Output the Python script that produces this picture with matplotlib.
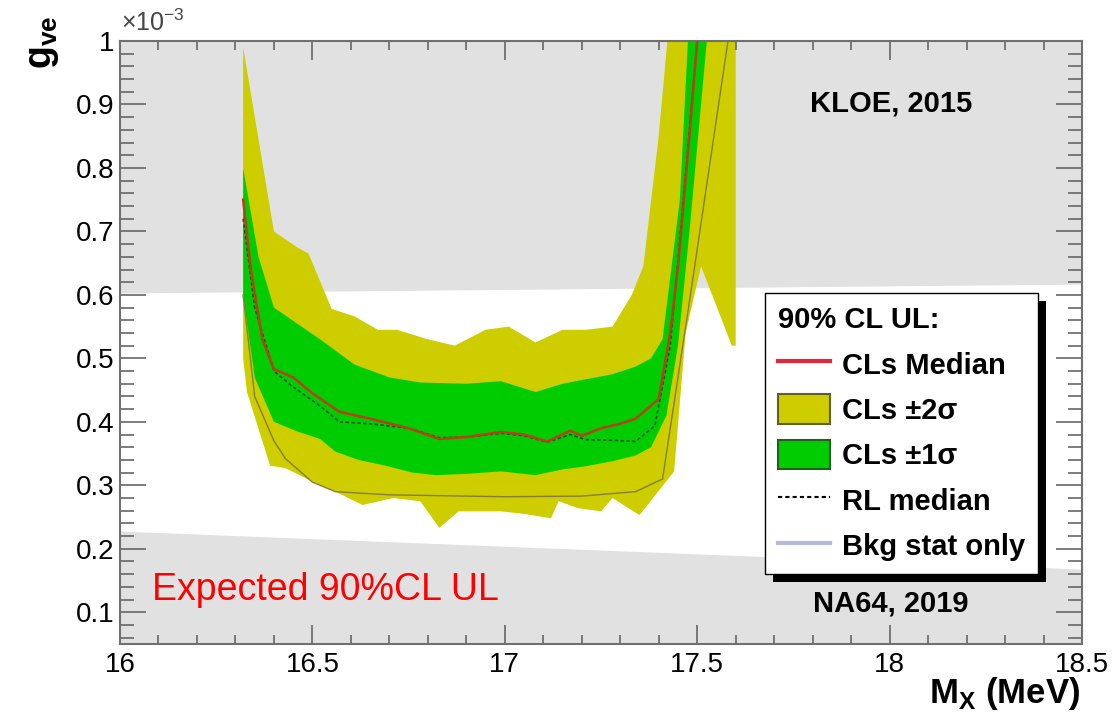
import numpy as np
import matplotlib.pyplot as plt
from matplotlib.lines import Line2D
from matplotlib.patches import Patch, Rectangle
from matplotlib.ticker import MultipleLocator, FuncFormatter
from matplotlib.transforms import IdentityTransform

plt.rcParams['font.family'] = ['Liberation Sans', 'DejaVu Sans']
plt.rcParams['mathtext.fontset'] = 'custom'
plt.rcParams['mathtext.rm'] = 'Liberation Sans'
plt.rcParams['mathtext.bf'] = 'Liberation Sans:bold'

# coupling values in units of 1e-3, mass in MeV
kloe_x = [16.0, 18.5]
kloe_y = [0.603, 0.617]
na64_x = [16.0, 18.5]
na64_y = [0.228, 0.168]

sig2_up_x = [16.32, 16.40, 16.46, 16.49, 16.55, 16.61, 16.67, 16.72, 16.80, 16.87, 16.95,
             17.01, 17.08, 17.15, 17.21, 17.28, 17.33, 17.36, 17.40, 17.43, 17.60]
sig2_up_y = [0.99, 0.70, 0.675, 0.665, 0.578, 0.566, 0.545, 0.545, 0.53, 0.52, 0.545,
             0.55, 0.525, 0.545, 0.545, 0.55, 0.60, 0.645, 0.85, 1.05, 1.05]
sig2_lo_x = [16.32, 16.33, 16.39, 16.43, 16.52, 16.56, 16.63, 16.71, 16.78, 16.83, 16.88,
             16.99, 17.05, 17.12, 17.14, 17.19, 17.25, 17.28, 17.35, 17.44, 17.47, 17.51,
             17.59, 17.60]
sig2_lo_y = [0.50, 0.447, 0.331, 0.327, 0.30, 0.29, 0.269, 0.28, 0.275, 0.233, 0.259,
             0.259, 0.255, 0.248, 0.275, 0.264, 0.259, 0.28, 0.253, 0.322, 0.54, 0.645,
             0.52, 0.52]

sig1_up_x = [16.32, 16.36, 16.40, 16.46, 16.52, 16.61, 16.70, 16.78, 16.90, 16.99, 17.08,
             17.15, 17.21, 17.28, 17.34, 17.38, 17.41, 17.455, 17.48, 17.53]
sig1_up_y = [0.80, 0.66, 0.58, 0.555, 0.53, 0.49, 0.47, 0.462, 0.46, 0.464, 0.447,
             0.46, 0.467, 0.475, 0.487, 0.50, 0.53, 0.75, 1.05, 1.05]
sig1_lo_x = [16.32, 16.35, 16.40, 16.46, 16.52, 16.56, 16.62, 16.69, 16.76, 16.82, 16.90,
             16.99, 17.08, 17.15, 17.21, 17.28, 17.34, 17.38, 17.42, 17.45, 17.48, 17.525,
             17.53]
sig1_lo_y = [0.60, 0.47, 0.40, 0.385, 0.373, 0.353, 0.34, 0.331, 0.32, 0.316, 0.318,
             0.322, 0.316, 0.325, 0.33, 0.338, 0.347, 0.36, 0.41, 0.52, 0.70, 1.0,
             1.05]

med_x = [16.32, 16.34, 16.37, 16.40, 16.45, 16.50, 16.57, 16.65, 16.75, 16.83, 16.90,
         16.99, 17.05, 17.11, 17.17, 17.20, 17.25, 17.30, 17.34, 17.40, 17.43, 17.45,
         17.48, 17.50]
med_y = [0.75, 0.64, 0.53, 0.483, 0.47, 0.445, 0.416, 0.405, 0.39, 0.373, 0.376,
         0.384, 0.38, 0.369, 0.386, 0.378, 0.39, 0.397, 0.405, 0.436, 0.54, 0.644,
         0.853, 1.0]

rl_x = [16.32, 16.35, 16.40, 16.45, 16.52, 16.57, 16.65, 16.75, 16.83, 16.90, 16.99,
        17.05, 17.11, 17.17, 17.21, 17.28, 17.34, 17.39, 17.43, 17.46, 17.50]
rl_y = [0.72, 0.58, 0.48, 0.455, 0.425, 0.40, 0.397, 0.39, 0.375, 0.376, 0.382,
        0.378, 0.368, 0.38, 0.372, 0.371, 0.369, 0.394, 0.52, 0.72, 1.0]

bkg_x = [16.32, 16.35, 16.40, 16.43, 16.50, 16.56, 16.70, 17.00, 17.20, 17.34, 17.41,
         17.48, 17.58]
bkg_y = [0.60, 0.44, 0.37, 0.342, 0.305, 0.29, 0.285, 0.282, 0.283, 0.29, 0.31,
         0.59, 1.0]

x_ticks = [16, 16.5, 17, 17.5, 18, 18.5]
y_ticks = [0.1, 0.2, 0.3, 0.4, 0.5, 0.6, 0.7, 0.8, 0.9, 1.0]

grey = '#e1e1e1'
yellow = '#cdcd00'
green = '#00cc00'

fig = plt.figure(figsize=(11.12, 7.15), dpi=100)
ax = fig.add_axes([120 / 1112, 1 - 644 / 715, 962 / 1112, 603 / 715])
ax.set_xlim(16, 18.5)
ax.set_ylim(0.05, 1.0)

# excluded regions
ax.fill_between(kloe_x, kloe_y, 1.0, color=grey, lw=0, zorder=0)
ax.fill_between(na64_x, 0.05, na64_y, color=grey, lw=0, zorder=0)

# expected limit bands
ax.fill(sig2_up_x + sig2_lo_x[::-1], sig2_up_y + sig2_lo_y[::-1],
        color=yellow, lw=0, zorder=1)
ax.fill(sig1_up_x + sig1_lo_x[::-1], sig1_up_y + sig1_lo_y[::-1],
        color=green, lw=0, zorder=2)
ax.plot(bkg_x, bkg_y, color='#857d3c', lw=1.0, zorder=3)
ax.plot(rl_x, rl_y, color='#205020', lw=1.2, ls=(0, (2, 1.5)), zorder=3)
ax.plot(med_x, med_y, color='#b8401c', lw=1.8, zorder=4)

# ticks, ROOT style
ax.set_xticks(x_ticks)
ax.set_yticks(y_ticks)
ax.xaxis.set_minor_locator(MultipleLocator(0.1))
ax.yaxis.set_minor_locator(MultipleLocator(0.02))
fmt = FuncFormatter(lambda v, p: '%g' % v)
ax.xaxis.set_major_formatter(fmt)
ax.yaxis.set_major_formatter(fmt)
ax.tick_params(which='both', direction='in', top=True, right=True,
               color='#666666', width=1.2, labelsize=20)
ax.tick_params(axis='x', which='major', length=14, pad=6)
ax.tick_params(axis='x', which='minor', length=6.5)
ax.tick_params(axis='y', which='major', length=19, pad=4)
ax.tick_params(axis='y', which='minor', length=10)
for s in ax.spines.values():
    s.set_color('#707070')
    s.set_linewidth(1.5)

# labels
fig.text(121 / 1112, 1 - 31 / 715, r'$\times10^{-3}$', fontsize=18, color='#444444',
         ha='left', va='baseline')
fig.text(43 / 1112, 1 - 42 / 715, r'$\mathbf{g}_{\mathbf{ve}}$', fontsize=27,
         rotation=90, ha='center', va='center')
fig.text(1080 / 1112, 1 - 703 / 715, r'$\mathbf{M}_{\mathbf{X}}$ (MeV)', fontsize=25,
         fontweight='bold', ha='right', va='baseline')

ax.text(17.793, 0.889, 'KLOE, 2015', fontsize=21, fontweight='bold', zorder=6)
ax.text(17.80, 0.1016, 'NA64, 2019', fontsize=21, fontweight='bold', zorder=6)
ax.text(16.083, 0.119, 'Expected 90%CL UL', fontsize=27, color='#ff0000', zorder=6)

handles = [
    Line2D([], [], color='#e0283a', lw=3),
    Patch(facecolor=yellow, edgecolor='#606020', lw=1.5),
    Patch(facecolor=green, edgecolor='#206020', lw=1.5),
    Line2D([], [], color='black', lw=1.5, ls=(0, (2, 1.5))),
    Line2D([], [], color='#b8b8d8', lw=3),
]
labels = ['CLs Median', 'CLs ±2σ', 'CLs ±1σ', 'RL median', 'Bkg stat only']
leg = ax.legend(handles, labels, loc='upper left', bbox_to_anchor=(0.670, 0.582),
                prop={'weight': 'bold', 'size': 21}, title='90% CL UL:',
                title_fontproperties={'weight': 'bold', 'size': 21},
                alignment='left', fancybox=False, framealpha=1,
                handlelength=1.8, handleheight=1.2, handletextpad=0.4,
                labelspacing=0.5, borderpad=0.45, borderaxespad=0)
leg.get_frame().set_edgecolor('black')
leg.get_frame().set_linewidth(1.0)
leg.set_zorder(7)

fig.canvas.draw()
bb = leg.get_window_extent(fig.canvas.get_renderer())
shadow = Rectangle((bb.x0 + 8, bb.y0 - 8), bb.width, bb.height, transform=IdentityTransform(),
                   facecolor='black', edgecolor='none', zorder=6.9, clip_on=False)
ax.add_artist(shadow)

fig.savefig('out.png', dpi=100)
